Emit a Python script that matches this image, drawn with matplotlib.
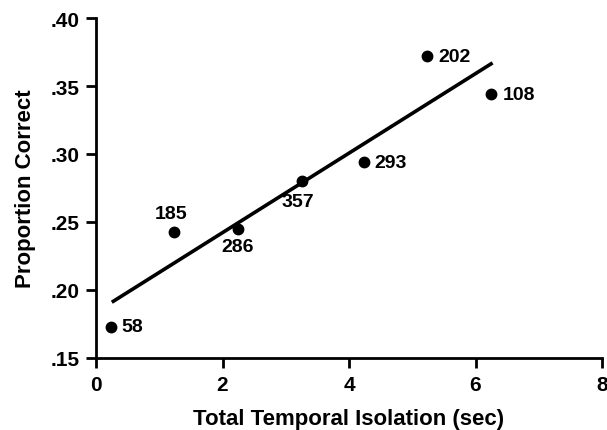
import matplotlib.pyplot as plt

# values
isolation = [0.24, 1.24, 2.24, 3.25, 4.23, 5.24, 6.24]
prop_correct = [0.173, 0.243, 0.245, 0.280, 0.294, 0.372, 0.344]
counts = ['58', '185', '286', '357', '293', '202', '108']
fit_x = [0.25, 6.27]
fit_y = [0.191, 0.367]

xticks = [0, 2, 4, 6, 8]
yticks = [0.15, 0.20, 0.25, 0.30, 0.35, 0.40]
ytick_labels = ['.15', '.20', '.25', '.30', '.35', '.40']

# label placement (pixel offsets, alignment) per point
label_pos = [
    (10, 0, 'left', 'center'),
    (-3, 18, 'center', 'center'),
    (0, -18, 'center', 'center'),
    (-4, -20, 'center', 'center'),
    (11, 0, 'left', 'center'),
    (11, 0, 'left', 'center'),
    (12, 0, 'left', 'center'),
]

plt.rcParams['font.family'] = ['Liberation Sans', 'DejaVu Sans']

fig = plt.figure(figsize=(6.07, 4.31), dpi=100)
ax = fig.add_axes([96 / 607, 1 - 359 / 431, (602 - 96) / 607, (359 - 19) / 431])

ax.plot(fit_x, fit_y, color='black', lw=2.6, solid_capstyle='butt')
ax.plot(isolation, prop_correct, 'o', color='black', ms=7.5)

px = 0.72
for x, y, txt, (dx, dy, ha, va) in zip(isolation, prop_correct, counts, label_pos):
    ax.annotate(txt, (x, y), xytext=(dx * px, dy * px), textcoords='offset points',
                ha=ha, va=va, fontsize=14, fontweight='bold')

ax.set_xlim(0, 8)
ax.set_ylim(0.15, 0.40)
ax.set_xticks(xticks)
ax.set_yticks(yticks)
ax.set_yticklabels(ytick_labels)
ax.spines['top'].set_visible(False)
ax.spines['right'].set_visible(False)
ax.spines['left'].set_linewidth(2)
ax.spines['bottom'].set_linewidth(2)
ax.tick_params(direction='out', length=7, width=2, labelsize=15, pad=5)
for lab in ax.get_xticklabels() + ax.get_yticklabels():
    lab.set_fontweight('bold')

ax.set_xlabel('Total Temporal Isolation (sec)', fontsize=16, fontweight='bold', labelpad=10)
ax.set_ylabel('Proportion Correct', fontsize=16, fontweight='bold', labelpad=10)

fig.savefig('out.png', dpi=100)
